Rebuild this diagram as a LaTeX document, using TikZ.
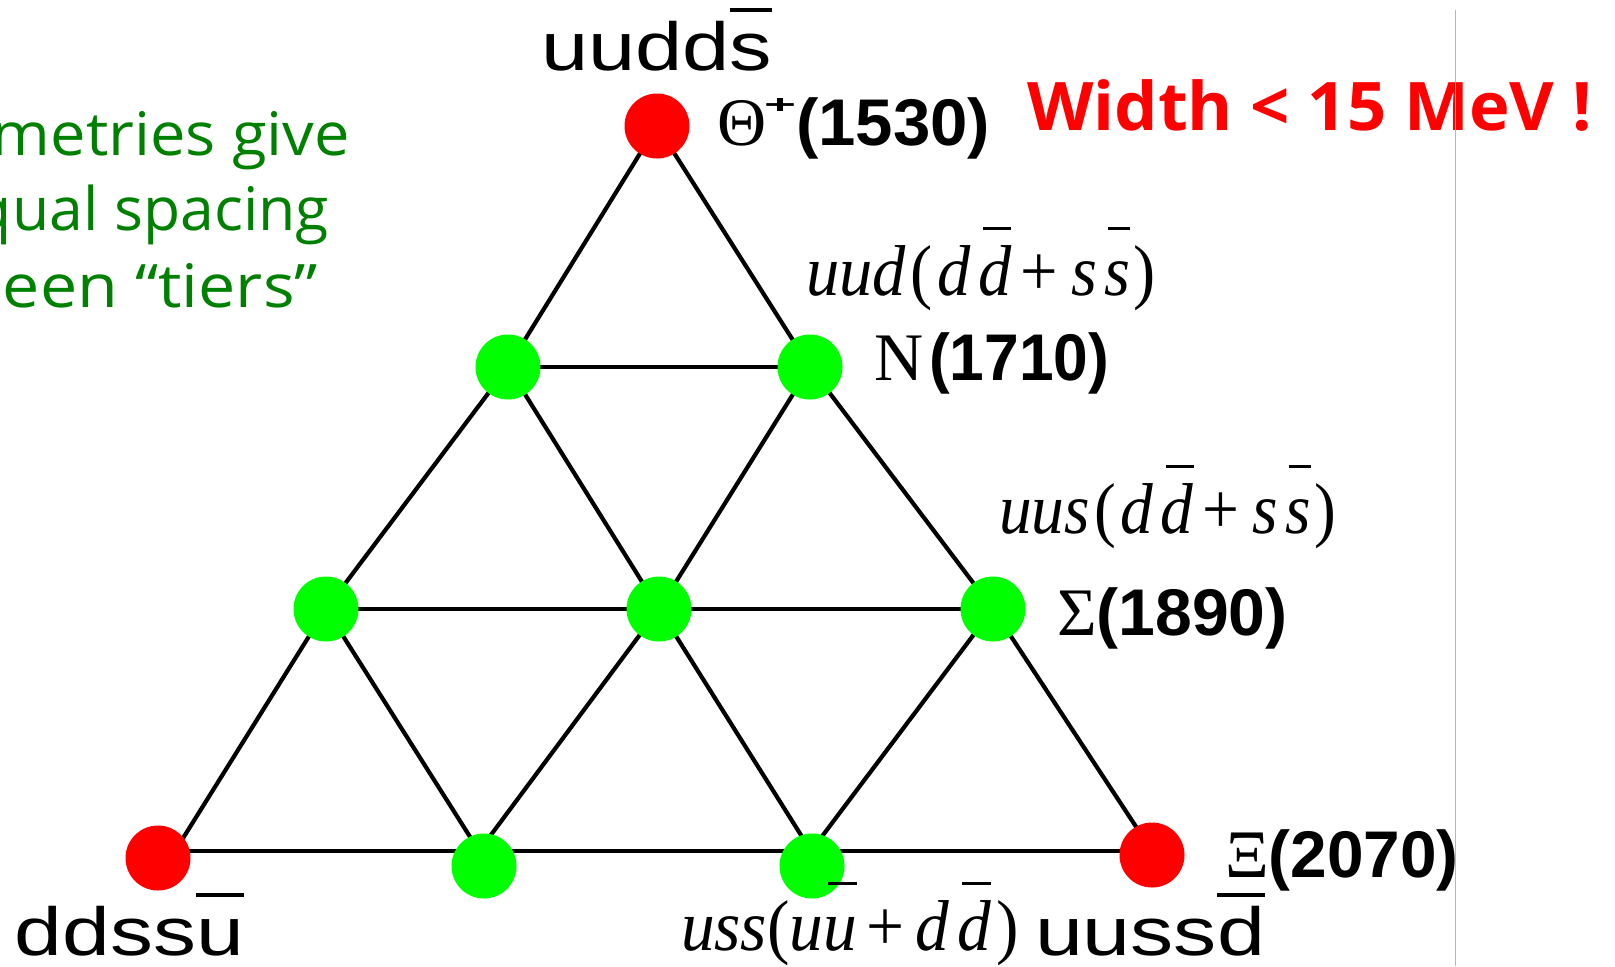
\documentclass[tikz,border=0pt]{standalone}
\usepackage{fontspec}
\usepackage{graphicx}
\setmainfont{Liberation Serif}
\newfontfamily\hel{Liberation Sans}
\newfontfamily\comic{Open Sans}
\definecolor{dotred}{HTML}{FF0000}
\definecolor{dotgreen}{HTML}{00FF00}
\definecolor{txtgreen}{HTML}{008000}
\definecolor{txtred}{HTML}{FF0000}
\definecolor{pinkline}{HTML}{FF9999}
\newcommand{\fsz}[1]{\fontsize{#1}{#1}\selectfont}
\newcommand{\fw}[2]{\resizebox{#1}{\height}{#2}}
\newcommand{\obs}[1]{\setbox0\hbox{#1}\rlap{\rule[0.85em]{\wd0}{0.06em}}\box0}
\newcommand{\obm}[1]{\setbox0\hbox{#1}\rlap{\kern0.15\wd0\rule[0.9em]{0.85\wd0}{0.045em}}\box0}
\begin{document}
\begin{tikzpicture}[x=0.5pt,y=-0.5pt,
  edgeline/.style={line width=2.1pt,black},
  reddot/.style={circle,fill=dotred,draw=none,minimum size=32.5pt,inner sep=0pt},
  greendot/.style={circle,fill=dotgreen,draw=none,minimum size=32.5pt,inner sep=0pt},
  lab/.style={anchor=base west,inner sep=0pt,outer sep=0pt},
  rlab/.style={anchor=base east,inner sep=0pt,outer sep=0pt}]
\useasboundingbox (0,0) rectangle (1615,966);
% lattice points
\coordinate (T) at (657,126);
\coordinate (L2) at (508,367);
\coordinate (R2) at (810,367);
\coordinate (L3) at (326,609);
\coordinate (C3) at (659,609);
\coordinate (R3) at (993,609);
\coordinate (BL) at (175,851);
\coordinate (B2) at (479,851);
\coordinate (B3) at (811,851);
\coordinate (BR) at (1152,851);
% edges
\draw[edgeline] (T) -- (L2) -- (L3) -- (BL);
\draw[edgeline] (T) -- (R2) -- (R3) -- (BR);
\draw[edgeline] (L2) -- (R2);
\draw[edgeline] (L3) -- (C3) -- (R3);
\draw[edgeline] (BL) -- (B2) -- (B3) -- (BR);
\draw[edgeline] (L2) -- (C3) -- (B3);
\draw[edgeline] (L3) -- (B2);
\draw[edgeline] (R2) -- (C3) -- (B2);
\draw[edgeline] (R3) -- (B3);
% dots
\node[reddot] (dT) at (657,126) {};
\node[greendot] (dL2) at (508,367) {};
\node[greendot] (dR2) at (810,367) {};
\node[greendot] (dL3) at (326,609) {};
\node[greendot] (dC3) at (659,609) {};
\node[greendot] (dR3) at (993,609) {};
\node[reddot] (dBL) at (158,858) {};
\node[greendot] (dB2) at (484,866) {};
\node[greendot] (dB3) at (812,866) {};
\node[reddot] (dBR) at (1152,855) {};
% quark content labels
\node[lab] (qT) at (541,70) {\hel\fsz{34pt}\fw{115.5pt}{uudd\obs{s}}};
\node[lab] (qBL) at (15,955) {\hel\fsz{34pt}\fw{114.5pt}{ddss\obs{u}}};
\node[lab] (qBR) at (1035,955) {\hel\fsz{34pt}\fw{115pt}{uuss\obs{d}}};
% particle labels
\node[lab] (lT) at (717,145) {\fsz{34pt}Θ\kern-1pt\raisebox{16pt}{\resizebox{16pt}{7.5pt}{\hel\bfseries +}}{\hel\bfseries\fsz{33pt}\fw{97pt}{(1530)}}};
\node[lab] (lN) at (874,380) {\fsz{34pt}N\kern3pt{\hel\bfseries\fsz{33pt}\fw{90pt}{(1710)}}};
\node[lab] (lS) at (1057,635) {\fsz{34pt}Σ{\hel\bfseries\fsz{33pt}\fw{95.5pt}{(1890)}}};
\node[lab] (lX) at (1225,877) {\fsz{34pt}Ξ{\hel\bfseries\fsz{33pt}\fw{95pt}{(2070)}}};
% math labels
\node[lab] (mN) at (806,295) {\fsz{36pt}\fw{175pt}{\textit{uud}\kern2.5pt(\kern2.5pt\textit{d}\kern4pt\obm{\textit{d}}\kern5pt+\kern7pt\textit{s}\kern4pt\obm{\textit{s}}\kern2pt)}};
\node[lab] (mS) at (999,533) {\fsz{36pt}\fw{168.5pt}{\textit{uus}\kern2.5pt(\kern2.5pt\textit{d}\kern4pt\obm{\textit{d}}\kern5pt+\kern7pt\textit{s}\kern4pt\obm{\textit{s}}\kern2pt)}};
\node[lab] (mX) at (681,950) {\fsz{36pt}\fw{169pt}{\textit{uss}(\textit{u}\obm{\textit{u}}\kern5pt+\kern6pt\textit{d}\kern4pt\obm{\textit{d}}\kern3pt)}};
% green comment
\node[rlab] (g1) at (350,155) {\comic\fsz{30pt}\color{txtgreen}\fw{179pt}{metries give}};
\node[rlab] (g2) at (329,230) {\comic\fsz{30pt}\color{txtgreen}\fw{177pt}{qual spacing}};
\node[rlab] (g3) at (318,307) {\comic\fsz{30pt}\color{txtgreen}\fw{157.5pt}{een “tiers”}};
% red note
\node[lab] (w) at (1027,130) {\comic\bfseries\fsz{33.5pt}\color{txtred}\fw{282.5pt}{Width < 15 MeV !}};
% pink guide line
\coordinate (p1) at (1455,10);
\coordinate (p2) at (1455,966);
\draw[pinkline,line width=0.5pt] (p1) -- (p2);
\end{tikzpicture}
\end{document}
